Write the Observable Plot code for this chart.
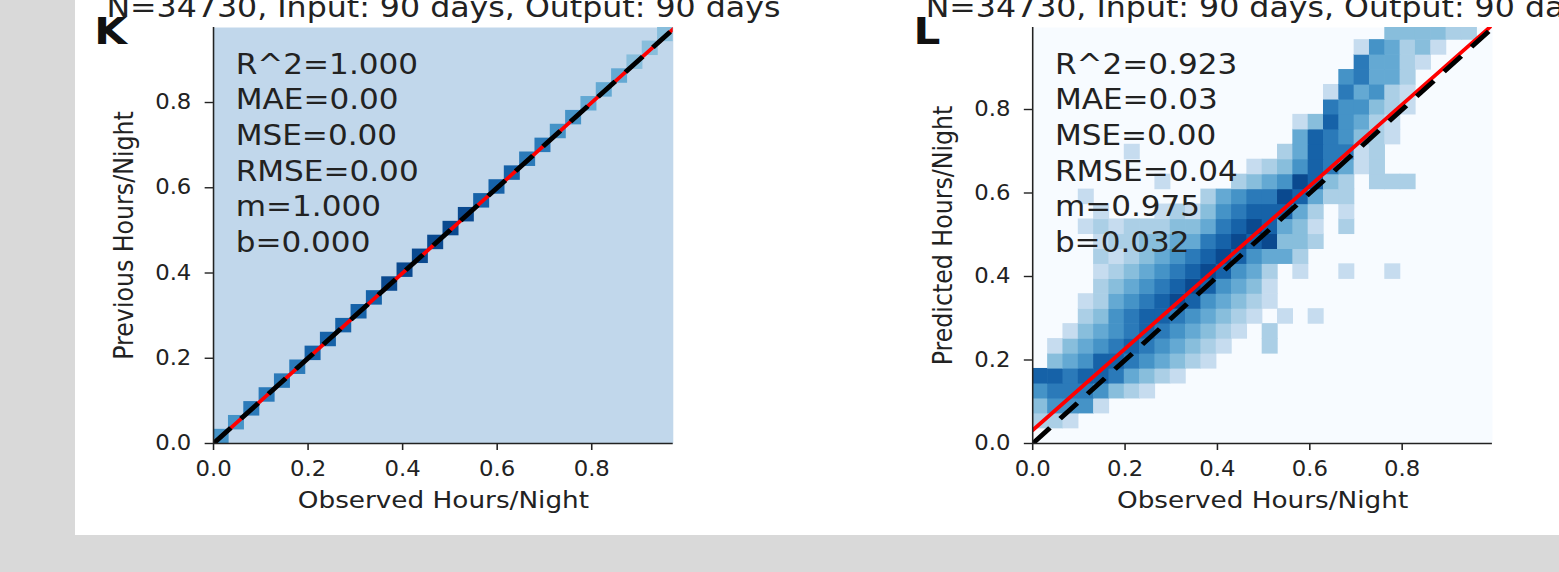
<!DOCTYPE html>
<html>
<head>
<meta charset="utf-8">
<script src="https://cdn.jsdelivr.net/npm/d3@7"></script>
<script src="https://cdn.jsdelivr.net/npm/@observablehq/plot@0.6"></script>
<style>
  html, body { margin: 0; padding: 0; background: #d9d9d9; width: 1559px; height: 572px; overflow: hidden; }
  #sheet { position: absolute; left: 75px; top: 0; width: 1484px; height: 535px; background: #ffffff; overflow: hidden; }
  #stretch { position: absolute; left: 0; top: 0; width: 1337px; height: 535px; display: flex; transform: scaleX(1.11); transform-origin: 0 0; }
  #stretch svg { display: block; flex: none; max-width: none; }
</style>
</head>
<body>
<div id="sheet"><div id="stretch"></div></div>
<script>
// ---- shared text ----
const titleText = "N=34730, Input: 90 days, Output: 90 days";
const xLabel = "Observed Hours/Night";
const tickValues = [0, 0.2, 0.4, 0.6, 0.8];
const binCount = 30;

// ---- panel K: previous vs observed ----
const kLetter = "K";
const kYLabel = "Previous Hours/Night";
const kStats = ["R^2=1.000", "MAE=0.00", "MSE=0.00", "RMSE=0.00", "m=1.000", "b=0.000"];
const kSlope = 1.000;
const kIntercept = 0.000;
const kXMax = 0.9725;
const kYMax = 0.976;
// density level of each diagonal bin (all points sit on y = x)
const kDiagonal = [5, 5, 6, 6, 6, 6, 7, 7, 7, 7, 7, 8, 8, 8, 8, 8, 8, 7, 7, 7, 6, 6, 5, 5, 4, 4, 4, 3, 3, 3];

// ---- panel L: predicted vs observed ----
const lLetter = "L";
const lYLabel = "Predicted Hours/Night";
const lStats = ["R^2=0.923", "MAE=0.03", "MSE=0.00", "RMSE=0.04", "m=0.975", "b=0.032"];
const lSlope = 0.975;
const lIntercept = 0.032;
const lXMax = 0.9955;
const lYMax = 0.9964;
const lYBin = 0.0358;
// 2D histogram density levels, one string per y bin (bottom row first), one digit per x bin
const lGrid = [
  "000000000000000000000000000000",
  "221000000000000000000000000000",
  "355510000000000000000000000000",
  "566653210000000000000000000000",
  "776776432100000000000000000000",
  "034577654321000000000000000000",
  "013456765432100200000000000000",
  "001345676543210200000000000000",
  "000235677654321010100000000000",
  "000124567875432100000000000000",
  "000023456787543100000000000000",
  "000012345678754201001001000000",
  "000021234567875442000000000000",
  "000012233446787833200000000000",
  "000121222334678743102000000000",
  "000010001213567774201000000000",
  "000100000002456687422000000000",
  "000000001000023458732022200000",
  "000000000000001235764120000000",
  "000000100000000024766120000000",
  "000000000000000004765321000000",
  "000000000000000001375421000000",
  "000000000000000000065532100000",
  "000000000000000000016452100000",
  "000000000000000000005644200000",
  "000000000000000000000644210000",
  "000000000000000000000154231000",
  "000000000000000000000003333220"
];

// ---- build cell tables ----
const kXBin = kXMax / binCount, kYBin = kYMax / binCount;
const kCells = kDiagonal.map((level, i) => ({
  x1: i * kXBin, x2: (i + 1) * kXBin, y1: i * kYBin, y2: (i + 1) * kYBin, level
}));

const lXBin = lXMax / binCount;
const lCells = [];
lGrid.forEach((row, r) => {
  Array.from(row).forEach((ch, c) => {
    const level = +ch;
    if (level > 0) lCells.push({x1: c * lXBin, x2: (c + 1) * lXBin, y1: r * lYBin, y2: (r + 1) * lYBin, level});
  });
});

const FRAME_LEFT = 124.3;
const FRAME_WIDTH = 414.2;

function panel({width, xMax, yMax, cells, frameFill, letter, yLabel, stats, slope, intercept}) {
  const fit = [0, xMax].map(x => ({x, y: slope * x + intercept}));
  const identity = [0, Math.max(xMax, yMax)].map(v => ({x: v, y: v}));
  return Plot.plot({
    width,
    height: 535,
    marginLeft: FRAME_LEFT,
    marginRight: width - FRAME_LEFT - FRAME_WIDTH,
    marginTop: 27,
    marginBottom: 92,
    x: {domain: [0, xMax]},
    y: {domain: [0, yMax]},
    color: {type: "linear", scheme: "blues", domain: [-1.5, 9]},
    style: {fontFamily: "'DejaVu Sans', sans-serif", fontSize: "20.5px", background: "transparent", color: "#222", overflow: "hidden"},
    marks: [
      Plot.frame({fill: frameFill, stroke: "none"}),
      Plot.rect(cells, {x1: "x1", x2: "x2", y1: "y1", y2: "y2", fill: "level", inset: -0.3, clip: true}),
      Plot.line(fit, {x: "x", y: "y", stroke: "#ff0000", strokeWidth: 3.6, clip: true}),
      Plot.line(identity, {x: "x", y: "y", stroke: "#000000", strokeWidth: 4.6, strokeDasharray: "22,13", strokeLinecap: "butt", clip: true}),
      Plot.ruleX([0], {stroke: "#222", strokeWidth: 1.4}),
      Plot.ruleY([0], {stroke: "#222", strokeWidth: 1.4}),
      Plot.axisX({ticks: tickValues, tickSize: 7, tickPadding: 11, tickFormat: d3.format(".1f"), label: null, strokeWidth: 1.4, fontSize: 20.5}),
      Plot.axisY({ticks: tickValues, tickSize: 7.5, tickPadding: 12.5, tickFormat: d3.format(".1f"), label: null, strokeWidth: 1.4, fontSize: 20.5}),
      Plot.text([xLabel], {text: d => d, frameAnchor: "bottom", lineAnchor: "top", dy: 48, fontSize: 23.7}),
      Plot.text([yLabel], {text: d => d, frameAnchor: "left", textAnchor: "middle", lineAnchor: "middle", rotate: -90, dx: -80, fontSize: 23.7}),
      Plot.text([stats.join("\n")], {text: d => d, frameAnchor: "top-left", textAnchor: "start", lineAnchor: "top", lineHeight: 1.272, dx: 20, dy: 21, fontSize: 28}),
      Plot.text([titleText], {text: d => d, frameAnchor: "top", lineAnchor: "top", dy: -31.2, fontSize: 28.5}),
      Plot.text([letter], {text: d => d, frameAnchor: "top-left", textAnchor: "start", lineAnchor: "top", dx: -107.5, dy: -10.5, fontSize: 38, fontWeight: "bold", fill: "#111"})
    ]
  });
}

const host = document.getElementById("stretch");
host.append(panel({
  width: 738.1, xMax: kXMax, yMax: kYMax, cells: kCells, frameFill: "#c1d7eb",
  letter: kLetter, yLabel: kYLabel, stats: kStats, slope: kSlope, intercept: kIntercept
}));
host.append(panel({
  width: 598.9, xMax: lXMax, yMax: lYMax, cells: lCells, frameFill: "#f7fbff",
  letter: lLetter, yLabel: lYLabel, stats: lStats, slope: lSlope, intercept: lIntercept
}));
</script>
</body>
</html>
